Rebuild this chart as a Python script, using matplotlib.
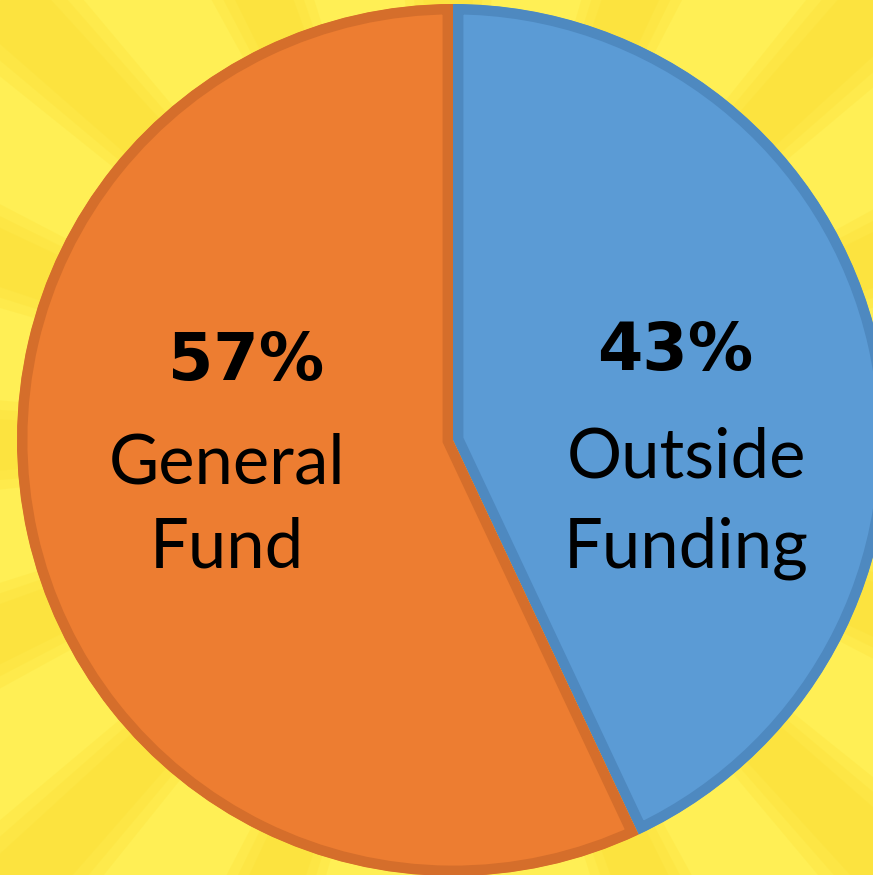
import numpy as np
import matplotlib
matplotlib.use('Agg')
import matplotlib.pyplot as plt
from matplotlib.patches import Wedge

# data
labels = ["Outside\nFunding", "General\nFund"]
shares = [43, 57]
pct_labels = ["43%", "57%"]
fills = ["#5B9BD5", "#ED7D31"]
edges = ["#4E89C0", "#D56E2B"]

W, H = 873, 875
fig = plt.figure(figsize=(W / 100, H / 100), dpi=100)
ax = fig.add_axes([0, 0, 1, 1])

cx, cy, r = 453, H - 440, 436

# sunburst background, soft-edged rays
ax.add_patch(plt.Rectangle((0, 0), W, H, color="#FFEF55", zorder=0))
ray_step = 11.25
for i, a0 in enumerate(np.arange(-5, 355, ray_step)):
    if i % 2 == 0:
        for k in range(3):
            ax.add_patch(Wedge((cx, cy), 1400, a0 + k * 1.2, a0 + ray_step - k * 1.2,
                               color="#FCDC2E", alpha=0.22, lw=0, zorder=1))

wedges, _ = ax.pie(shares, colors=fills, startangle=90, counterclock=False,
                   center=(cx, cy), radius=r, frame=True,
                   wedgeprops=dict(linewidth=15))
# border drawn inside each slice only
for w, ec in zip(wedges, edges):
    w.set_edgecolor(ec)
    w.set_clip_path(w)
    w.set_clip_on(True)
    w.set_zorder(2)

ax.set_xlim(0, W)
ax.set_ylim(0, H)
ax.set_aspect('equal')
ax.axis('off')

fam = ['Lato', 'DejaVu Sans']
# label positions (pixels from top)
pct_pos = [(675, 370), (246, 380)]
name_pos = [(686, 478, 567), (227, 483, 568)]
for lab, pct, (px, pyb), (nx, y1, y2) in zip(labels, pct_labels, pct_pos, name_pos):
    ax.text(px, H - pyb, pct, ha='center', va='baseline', fontsize=47,
            fontweight='bold', family='DejaVu Sans', zorder=3)
    l1, l2 = lab.split("\n")
    ax.text(nx, H - y1, l1, ha='center', va='baseline', fontsize=49.5,
            family=fam, zorder=3)
    ax.text(nx, H - y2, l2, ha='center', va='baseline', fontsize=49.5,
            family=fam, zorder=3)

fig.savefig("out.png", dpi=100)
plt.close(fig)
